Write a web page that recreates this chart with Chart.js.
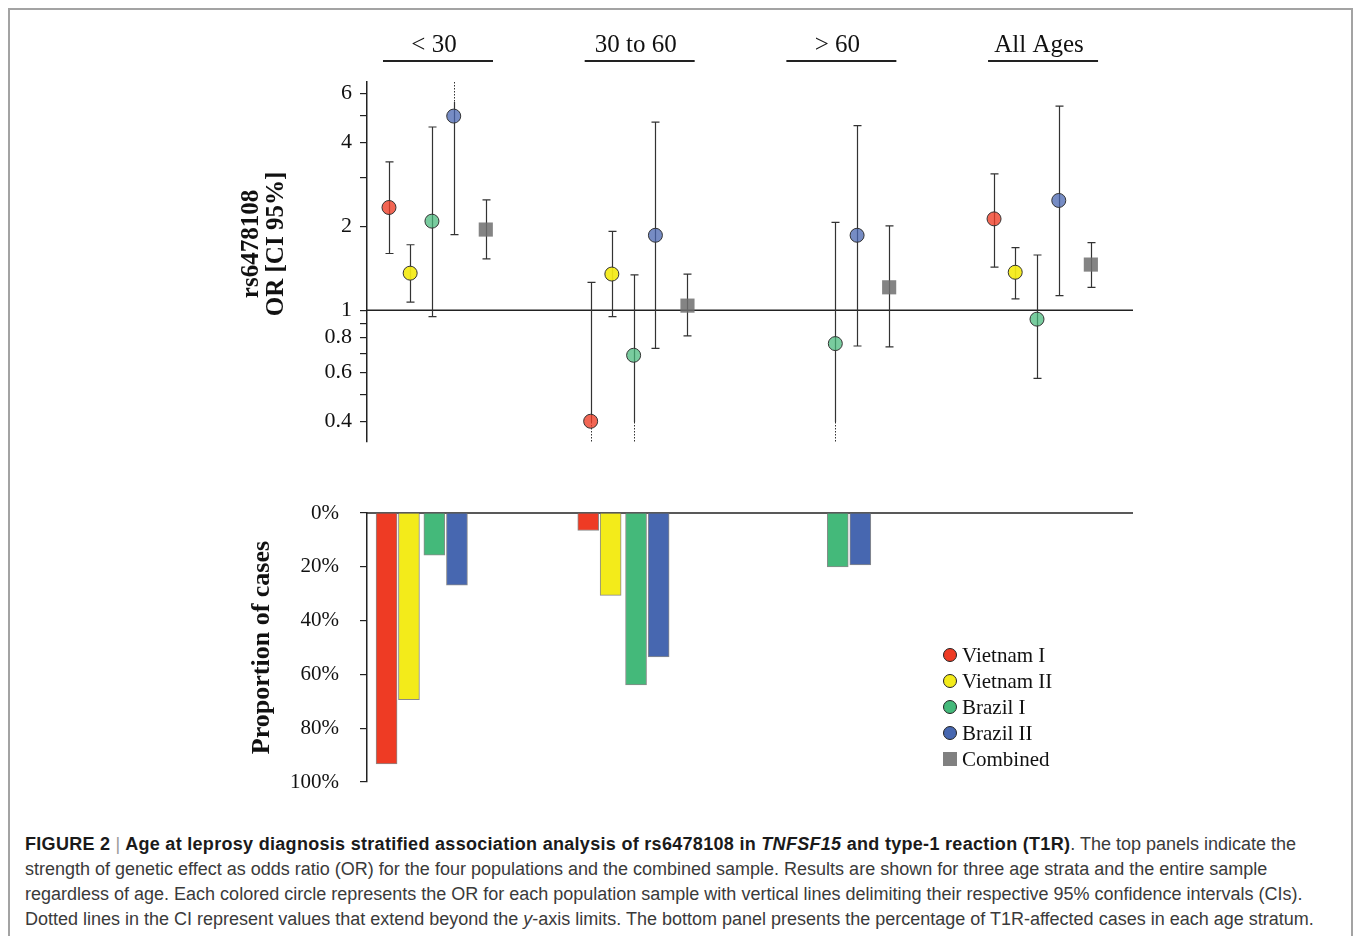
<!DOCTYPE html>
<html>
<head>
<meta charset="utf-8">
<script src="https://cdn.jsdelivr.net/npm/chart.js@4.4.1/dist/chart.umd.min.js"></script>
<style>
  body { margin: 0; background: #fff; width: 1358px; height: 936px; overflow: hidden; position: relative; }
  #frame { position: absolute; left: 8px; top: 8px; width: 1341px; height: 1000px; border: 2px solid #a3a3a3; border-bottom: none; }
  #topChart { position: absolute; left: 0; top: 0; }
  #bottomChart { position: absolute; left: 0; top: 480px; }
  #caption { position: absolute; left: 25px; top: 832px; font: 18px/25px "Liberation Sans", Arial, sans-serif; color: #3a3a3a; white-space: nowrap; }
  #caption b { color: #1a1a1a; letter-spacing: 0.3px; }
  #caption .sep { color: #999; font-weight: normal; }
</style>
</head>
<body>
<div id="frame"></div>
<canvas id="topChart" width="1358" height="480"></canvas>
<canvas id="bottomChart" width="1358" height="320"></canvas>
<div id="caption">
<b>FIGURE 2</b> <span class="sep">|</span> <b>Age at leprosy diagnosis stratified association analysis of rs6478108 in <i>TNFSF15</i> and type-1 reaction (T1R)</b>. The top panels indicate the<br>
strength of genetic effect as odds ratio (OR) for the four populations and the combined sample. Results are shown for three age strata and the entire sample<br>
regardless of age. Each colored circle represents the OR for each population sample with vertical lines delimiting their respective 95% confidence intervals (CIs).<br>
Dotted lines in the CI represent values that extend beyond the <i>y</i>-axis limits. The bottom panel presents the percentage of T1R-affected cases in each age stratum.
</div>
<script>
const categories = ['< 30', '30 to 60', '> 60', 'All Ages'];
const seriesNames = ['Vietnam I', 'Vietnam II', 'Brazil I', 'Brazil II', 'Combined'];

// odds ratio per age group
const orVietnamI  = [2.34, 0.40, null, 2.13];
const orVietnamII = [1.36, 1.35, null, 1.37];
const orBrazilI   = [2.09, 0.69, 0.76, 0.93];
const orBrazilII  = [4.98, 1.86, 1.86, 2.48];
const orCombined  = [1.95, 1.04, 1.21, 1.46];

// 95% CI, Infinity / 0 = goes past the axis (drawn dotted)
const ciLoVietnamI  = [1.60, 0, null, 1.43];
const ciHiVietnamI  = [3.41, 1.26, null, 3.09];
const ciLoVietnamII = [1.07, 0.95, null, 1.10];
const ciHiVietnamII = [1.72, 1.92, null, 1.68];
const ciLoBrazilI   = [0.95, 0, 0, 0.57];
const ciHiBrazilI   = [4.55, 1.34, 2.07, 1.58];
const ciLoBrazilII  = [1.87, 0.73, 0.745, 1.13];
const ciHiBrazilII  = [Infinity, 4.74, 4.60, 5.41];
const ciLoCombined  = [1.53, 0.81, 0.74, 1.21];
const ciHiCombined  = [2.49, 1.35, 2.01, 1.75];

// proportion of T1R cases (%)
const pctVietnamI  = [93.3, 6.5, null, null];
const pctVietnamII = [69.4, 30.6, null, null];
const pctBrazilI   = [15.7, 63.9, 20.0, null];
const pctBrazilII  = [26.8, 53.5, 19.3, null];

const orTicks = [0.4, 0.5, 0.6, 0.7, 0.8, 0.9, 1, 2, 3, 4, 5, 6];
const orTickLabels = [0.4, 0.6, 0.8, 1, 2, 4, 6];

const pointColors = ['rgba(238,59,36,0.78)', 'rgba(244,234,20,0.92)', 'rgba(69,185,122,0.72)', 'rgba(72,102,176,0.75)', 'rgba(110,110,110,0.85)'];
const solidColors = ['#ee3b24', '#f3eb1a', '#44b97a', '#4767b0', '#808080'];
const pointOffset = [-0.243, -0.138, -0.03, 0.078, 0.237];
const barOffset = [-0.255, -0.144, -0.018, 0.094];

const serif = '"Liberation Serif", "Times New Roman", serif';
const xRange = { min: -0.352, max: 3.446 };

function vTitle(ctx, text, cx, cy, size) {
  ctx.save();
  ctx.translate(cx, cy);
  ctx.rotate(-Math.PI / 2);
  ctx.font = 'bold ' + size + 'px ' + serif;
  ctx.fillStyle = '#111';
  ctx.textAlign = 'center';
  ctx.textBaseline = 'middle';
  ctx.fillText(text, 0, 0);
  ctx.restore();
}

// fixed axis box so the plot areas line up
function fixAxis(scale) {
  scale.width = 367;
  scale.paddingTop = 0;
  scale.paddingBottom = 0;
}

const orExtras = {
  id: 'orExtras',
  beforeDatasetsDraw(chart) {
    const { ctx, chartArea: a, scales: { x, y } } = chart;
    ctx.save();
    // OR = 1 reference line
    ctx.strokeStyle = '#222';
    ctx.lineWidth = 1.5;
    const y1 = y.getPixelForValue(1);
    ctx.beginPath(); ctx.moveTo(a.left, y1); ctx.lineTo(a.right, y1); ctx.stroke();

    chart.data.datasets.forEach(ds => {
      ds.data.forEach((p, i) => {
        if (p.y == null) return;
        const px = Math.round(x.getPixelForValue(p.x)) + 0.5;
        const hi = ds.ciHi[i] > y.max ? null : y.getPixelForValue(ds.ciHi[i]);
        const lo = ds.ciLo[i] < y.min ? null : y.getPixelForValue(ds.ciLo[i]);
        const sTop = hi == null ? a.top + 20 : hi;
        const sBot = lo == null ? a.bottom - 20 : lo;
        ctx.setLineDash([]);
        ctx.strokeStyle = '#333';
        ctx.lineWidth = 1.2;
        ctx.beginPath();
        ctx.moveTo(px, sTop); ctx.lineTo(px, sBot);
        if (hi != null) { ctx.moveTo(px - 4, hi); ctx.lineTo(px + 4, hi); }
        if (lo != null) { ctx.moveTo(px - 4, lo); ctx.lineTo(px + 4, lo); }
        ctx.stroke();
        ctx.setLineDash([1.5, 1.5]);
        ctx.lineWidth = 1;
        ctx.beginPath();
        if (hi == null) { ctx.moveTo(px, a.top); ctx.lineTo(px, sTop); }
        if (lo == null) { ctx.moveTo(px, sBot); ctx.lineTo(px, a.bottom); }
        ctx.stroke();
      });
    });
    ctx.restore();
  },
  afterDraw(chart) {
    const { ctx, chartArea: a, scales: { x } } = chart;
    ctx.save();
    // age group headers with underline
    ctx.font = '25px ' + serif;
    ctx.fillStyle = '#111';
    ctx.textAlign = 'center';
    ctx.textBaseline = 'middle';
    ctx.strokeStyle = '#222';
    ctx.lineWidth = 2;
    categories.forEach((c, i) => {
      const cx = x.getPixelForValue(i);
      ctx.fillText(c, cx - 4, a.top - 37);
      ctx.beginPath(); ctx.moveTo(cx - 55, a.top - 21); ctx.lineTo(cx + 55, a.top - 21); ctx.stroke();
    });
    ctx.restore();
    vTitle(ctx, 'rs6478108', a.left - 115, 244, 25);
    vTitle(ctx, 'OR [CI 95%]', a.left - 90, 244, 25);
  }
};

const orSeries = [orVietnamI, orVietnamII, orBrazilI, orBrazilII, orCombined];
const ciLo = [ciLoVietnamI, ciLoVietnamII, ciLoBrazilI, ciLoBrazilII, ciLoCombined];
const ciHi = [ciHiVietnamI, ciHiVietnamII, ciHiBrazilI, ciHiBrazilII, ciHiCombined];

new Chart(document.getElementById('topChart'), {
  type: 'scatter',
  data: {
    datasets: seriesNames.map((name, s) => ({
      label: name,
      data: categories.map((c, i) => ({ x: i + pointOffset[s], y: orSeries[s][i] })),
      ciLo: ciLo[s],
      ciHi: ciHi[s],
      backgroundColor: pointColors[s],
      borderColor: '#333',
      borderWidth: s === 4 ? 0 : 1,
      pointStyle: s === 4 ? 'rect' : 'circle',
      pointRadius: s === 4 ? 10 : 7,
      showLine: false
    }))
  },
  options: {
    responsive: false,
    animation: false,
    layout: { padding: { left: 0, top: 82, right: 225, bottom: 38 } },
    plugins: { legend: { display: false }, tooltip: { enabled: false } },
    scales: {
      x: { type: 'linear', display: false, offset: false, min: xRange.min, max: xRange.max },
      y: {
        type: 'logarithmic',
        bounds: 'data',
        min: 0.337,
        max: 6.6,
        afterFit: fixAxis,
        afterBuildTicks(scale) { scale.ticks = orTicks.map(v => ({ value: v })); },
        grid: { drawOnChartArea: false, drawTicks: true, tickLength: 7, color: '#222', lineWidth: 1.2 },
        border: { display: true, color: '#222', width: 1.5 },
        ticks: {
          autoSkip: false,
          padding: 8,
          color: '#111',
          font: { family: serif, size: 22 },
          callback: v => orTickLabels.includes(v) ? String(v) : ''
        }
      }
    }
  },
  plugins: [orExtras]
});

const pctSeries = [pctVietnamI, pctVietnamII, pctBrazilI, pctBrazilII];

const barExtras = {
  id: 'barExtras',
  beforeDatasetsDraw(chart) {
    const { ctx, chartArea: a, scales: { y } } = chart;
    ctx.save();
    ctx.strokeStyle = '#222';
    ctx.lineWidth = 1.5;
    const y0 = y.getPixelForValue(0);
    ctx.beginPath(); ctx.moveTo(a.left, y0); ctx.lineTo(a.right, y0); ctx.stroke();
    ctx.restore();
  },
  afterDraw(chart) {
    const { ctx, chartArea: a } = chart;
    vTitle(ctx, 'Proportion of cases', a.left - 105, (a.top + a.bottom) / 2, 26);
    // legend
    ctx.save();
    ctx.font = '21px ' + serif;
    ctx.textAlign = 'left';
    ctx.textBaseline = 'middle';
    seriesNames.forEach((name, s) => {
      const lx = a.left + 583, ly = a.top + 142 + s * 26;
      ctx.fillStyle = solidColors[s];
      if (s === 4) {
        ctx.fillRect(lx - 7, ly - 7, 14, 14);
      } else {
        ctx.beginPath(); ctx.arc(lx, ly, 6.5, 0, Math.PI * 2); ctx.fill();
        ctx.strokeStyle = '#222'; ctx.lineWidth = 1; ctx.stroke();
      }
      ctx.fillStyle = '#111';
      ctx.fillText(name, lx + 12, ly + 1);
    });
    ctx.restore();
  }
};

new Chart(document.getElementById('bottomChart'), {
  type: 'bar',
  data: {
    datasets: pctSeries.map((vals, s) => ({
      label: seriesNames[s],
      data: categories.map((c, i) => ({ x: i + barOffset[s], y: vals[i] })),
      backgroundColor: solidColors[s],
      borderColor: '#8a8a8a',
      borderWidth: 1,
      barThickness: 21,
      grouped: false
    }))
  },
  options: {
    responsive: false,
    animation: false,
    layout: { padding: { left: 0, top: 33, right: 225, bottom: 18 } },
    plugins: { legend: { display: false }, tooltip: { enabled: false } },
    scales: {
      x: { type: 'linear', display: false, offset: false, min: xRange.min, max: xRange.max },
      y: {
        min: 0,
        max: 100,
        reverse: true,
        afterFit: fixAxis,
        grid: { drawOnChartArea: false, drawTicks: true, tickLength: 7, color: '#222', lineWidth: 1.2 },
        border: { display: true, color: '#222', width: 1.5 },
        ticks: {
          stepSize: 20,
          padding: 21,
          color: '#111',
          font: { family: serif, size: 21 },
          callback: v => v + '%'
        }
      }
    }
  },
  plugins: [barExtras]
});
</script>
</body>
</html>
